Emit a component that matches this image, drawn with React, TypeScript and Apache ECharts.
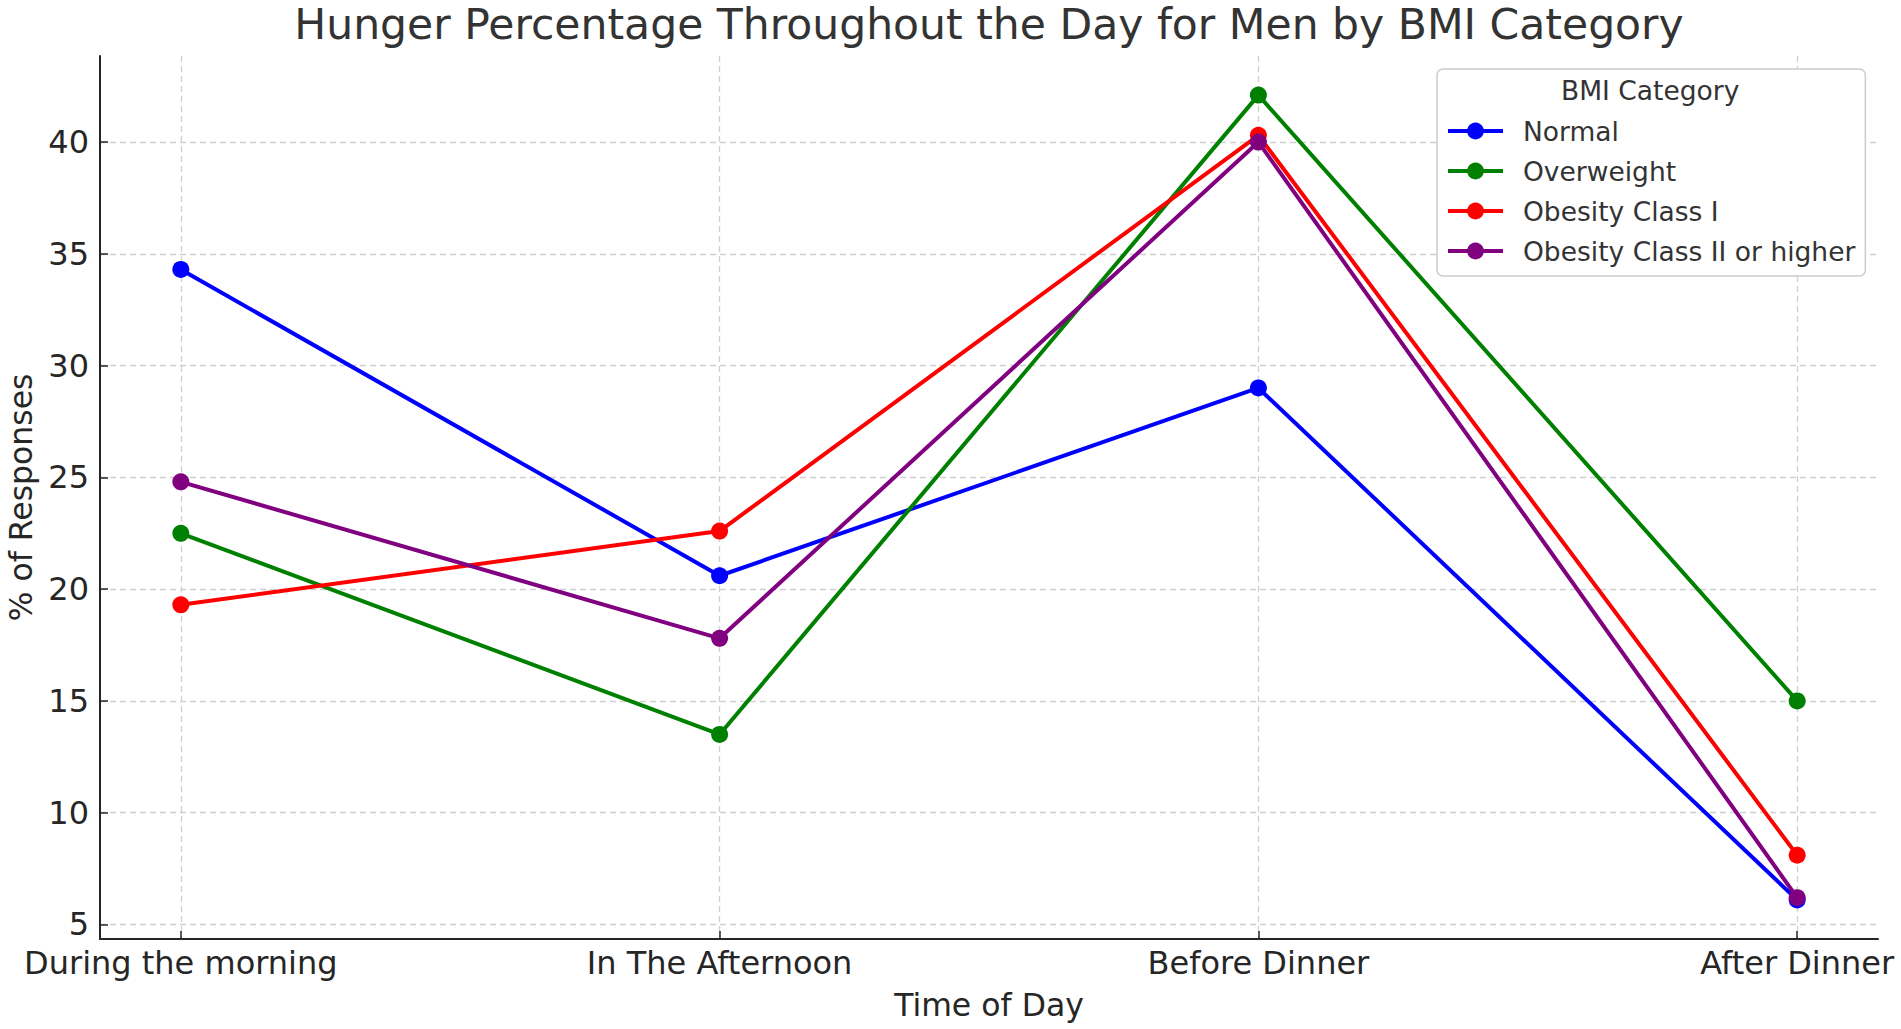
import React, { useEffect, useRef } from "react";
import * as echarts from "echarts";

const categories = ["During the morning", "In The Afternoon", "Before Dinner", "After Dinner"];
const normal = [34.3, 20.6, 29.0, 6.1];
const overweight = [22.5, 13.5, 42.1, 15.0];
const obesity1 = [19.3, 22.6, 40.3, 8.1];
const obesity2 = [24.8, 17.8, 40.0, 6.2];
const yTicks = [5, 10, 15, 20, 25, 30, 35, 40];
const seriesNames = ["Normal", "Overweight", "Obesity Class I", "Obesity Class II or higher"];
const seriesColors = ["#0000ff", "#008000", "#ff0000", "#800080"];
const seriesValues = [normal, overweight, obesity1, obesity2];

const FONT = "DejaVu Sans";

export default function App() {
  const ref = useRef<HTMLDivElement>(null);
  useEffect(() => {
    document.body.style.margin = "0";
    const chart = echarts.init(ref.current!, null, { renderer: "svg" });
    const xIdx = categories.map((_, i) => i);
    const option = {
      animation: false,
      backgroundColor: "#ffffff",
      textStyle: { fontFamily: FONT },
      title: {
        text: "Hunger Percentage Throughout the Day for Men by BMI Category",
        left: 984,
        top: -2,
        textAlign: "center",
        textStyle: { fontFamily: FONT, fontSize: 42.5, fontWeight: "normal", color: "#333333" },
      },
      grid: { left: 100, right: 23, top: 56, bottom: 90, containLabel: false, outerBoundsMode: "none" },
      legend: {
        orient: "vertical",
        left: 1437,
        top: 69,
        padding: [47, 10, 10, 9],
        backgroundColor: "#ffffff",
        borderColor: "#cccccc",
        borderWidth: 1.5,
        borderRadius: 6,
        itemWidth: 55,
        itemHeight: 21,
        itemGap: 10,
        data: seriesNames,
        lineStyle: { width: 4 },
        textStyle: { fontFamily: FONT, fontSize: 26.5, color: "#333333", lineHeight: 30, padding: [0, 0, 0, 15] },
      },
      graphic: [
        {
          type: "text",
          left: 1561,
          top: 77,
          style: { text: "BMI Category", font: `26.5px ${FONT}`, fill: "#333333" },
          z: 100,
        },
      ],
      xAxis: {
        type: "value",
        min: -0.15,
        max: 3.15,
        name: "Time of Day",
        nameLocation: "middle",
        nameGap: 50,
        nameTextStyle: { fontFamily: FONT, fontSize: 31.5, color: "#262626" },
        axisLine: { show: true, onZero: false, lineStyle: { color: "#262626", width: 2 } },
        axisTick: { show: true, inside: true, length: 8, customValues: xIdx, lineStyle: { color: "#262626", width: 1.5 } },
        axisLabel: {
          customValues: xIdx,
          margin: 8,
          fontFamily: FONT,
          fontSize: 32,
          color: "#262626",
          formatter: (v: number) => categories[Math.round(v)] ?? "",
        },
        splitLine: { show: true, lineStyle: { color: "#d0d0d0", type: [6, 4], width: 1.3 } },
      },
      yAxis: {
        type: "value",
        min: 4.35,
        max: 43.85,
        name: "% of Responses",
        nameLocation: "middle",
        nameRotate: 90,
        nameGap: 62,
        nameTextStyle: { fontFamily: FONT, fontSize: 31.5, color: "#262626" },
        axisLine: { show: true, onZero: false, lineStyle: { color: "#262626", width: 2 } },
        axisTick: { show: true, inside: true, length: 8, customValues: yTicks, lineStyle: { color: "#262626", width: 1.5 } },
        axisLabel: {
          customValues: yTicks,
          margin: 11,
          fontFamily: FONT,
          fontSize: 32,
          color: "#262626",
        },
        splitLine: { show: true, lineStyle: { color: "#d0d0d0", type: [6, 4], width: 1.3 } },
      },
      series: seriesNames.map((name, s) => ({
        name,
        type: "line",
        data: seriesValues[s].map((v, i) => [xIdx[i], v]),
        color: seriesColors[s],
        lineStyle: { width: 4, color: seriesColors[s] },
        itemStyle: { color: seriesColors[s] },
        symbol: "circle",
        symbolSize: 17,
        showSymbol: true,
        z: 2 + s,
      })),
    };
    chart.setOption(option as any);
    return () => chart.dispose();
  }, []);
  return <div ref={ref} style={{ position: "fixed", left: 0, top: 0, width: 1901, height: 1029 }} />;
}
